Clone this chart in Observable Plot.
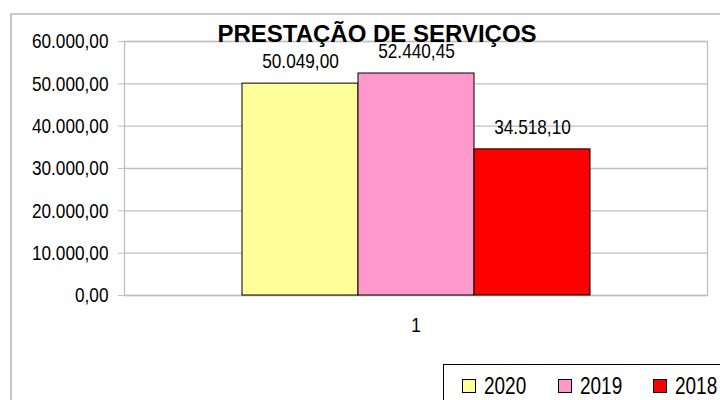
<!DOCTYPE html>
<html>
<head>
<meta charset="utf-8">
<script src="https://cdn.jsdelivr.net/npm/d3@7"></script>
<script src="https://cdn.jsdelivr.net/npm/@observablehq/plot@0.6"></script>
<style>
  body { margin: 0; background: #fff; font-family: "Liberation Sans", Arial, sans-serif; }
  #wrap { position: relative; width: 720px; height: 400px; overflow: hidden; background: #fff; }
  #outer { position: absolute; left: 10px; top: 13px; width: 800px; height: 500px; border: 2px solid #c8c8c8; box-sizing: border-box; }
  #chart { position: absolute; left: 0; top: 0; }
  #title { position: absolute; left: 0; width: 754px; top: 22px; text-align: center; font-weight: bold; font-size: 24px; line-height: 24px; color: #000; }
  #legend { position: absolute; left: 443px; top: 364px; width: 400px; height: 60px; border: 1px solid #000; box-sizing: border-box; background: #fff; padding-left: 18px; padding-top: 14px; display: flex; align-items: flex-start; }
  .item { width: 95.7px; flex: none; display: flex; align-items: center; height: 14px; }
  .sw { width: 14px; height: 14px; box-sizing: border-box; border: 1px solid #000; margin-right: 8px; flex: none; }
  .lt { display: inline-block; font-size: 24px; line-height: 14px; color: #000; transform: scaleX(0.79); transform-origin: left center; white-space: nowrap; }
</style>
</head>
<body>
<div id="wrap">
  <div id="outer"></div>
  <div id="chart"></div>
  <div id="title"></div>
  <div id="legend"></div>
</div>
<script>
// ---- data ----
const titleText = "PRESTAÇÃO DE SERVIÇOS";
const categories = ["1"];
const years = ["2020", "2019", "2018"];
const values = [50049.00, 52440.45, 34518.10];
const colors = ["#FFFF99", "#FF99CC", "#FF0000"];
const yTicks = [0, 10000, 20000, 30000, 40000, 50000, 60000];

const locale = d3.formatLocale({decimal: ",", thousands: ".", grouping: [3], currency: ["R$ ", ""]});
const fmt = locale.format(",.2f");

const data = years.map((y, i) => ({grupo: categories[0], ano: y, valor: values[i]}));

document.getElementById("title").textContent = titleText;

const plot = Plot.plot({
  width: 720,
  height: 400,
  marginLeft: 124,
  marginRight: 13,
  marginTop: 41,
  marginBottom: 105,
  style: {background: "transparent", fontFamily: "'Liberation Sans', Arial, sans-serif", color: "#000"},
  fx: {domain: categories, padding: 0, label: null},
  x: {domain: years, paddingInner: 0, paddingOuter: 1, axis: null},
  y: {domain: [0, 60000], label: null},
  color: {domain: years, range: colors},
  marks: [
    Plot.gridY(yTicks, {stroke: "#c0c0c0", strokeOpacity: 1, strokeWidth: 1.3}),
    Plot.frame({stroke: "#c0c0c0", strokeWidth: 1.3}),
    Plot.axisY(yTicks, {tickSize: 6, tickPadding: 10, tickFormat: fmt, stroke: "#c0c0c0", fill: "#000", fontSize: 21, label: null}),
    Plot.axisFx({anchor: "bottom", tickSize: 0, tickPadding: 22, fontSize: 21, fill: "#000", label: null}),
    Plot.barY(data, {fx: "grupo", x: "ano", y: "valor", fill: "ano", stroke: "#000", strokeWidth: 1}),
    Plot.text(data, {fx: "grupo", x: "ano", y: "valor", text: d => fmt(d.valor), dy: -22, fontSize: 21, fill: "#000"})
  ]
});
document.getElementById("chart").appendChild(plot);

// condensed look of the original's narrow font
plot.querySelectorAll("text").forEach(t => {
  const len = t.getComputedTextLength();
  if (len > 0) {
    t.setAttribute("textLength", (len * 0.82).toFixed(2));
    t.setAttribute("lengthAdjust", "spacingAndGlyphs");
  }
});

// legend
const legend = document.getElementById("legend");
years.forEach((y, i) => {
  const item = document.createElement("div");
  item.className = "item";
  const sw = document.createElement("div");
  sw.className = "sw";
  sw.style.background = colors[i];
  const lt = document.createElement("span");
  lt.className = "lt";
  lt.textContent = y;
  item.appendChild(sw);
  item.appendChild(lt);
  legend.appendChild(item);
});
</script>
</body>
</html>
